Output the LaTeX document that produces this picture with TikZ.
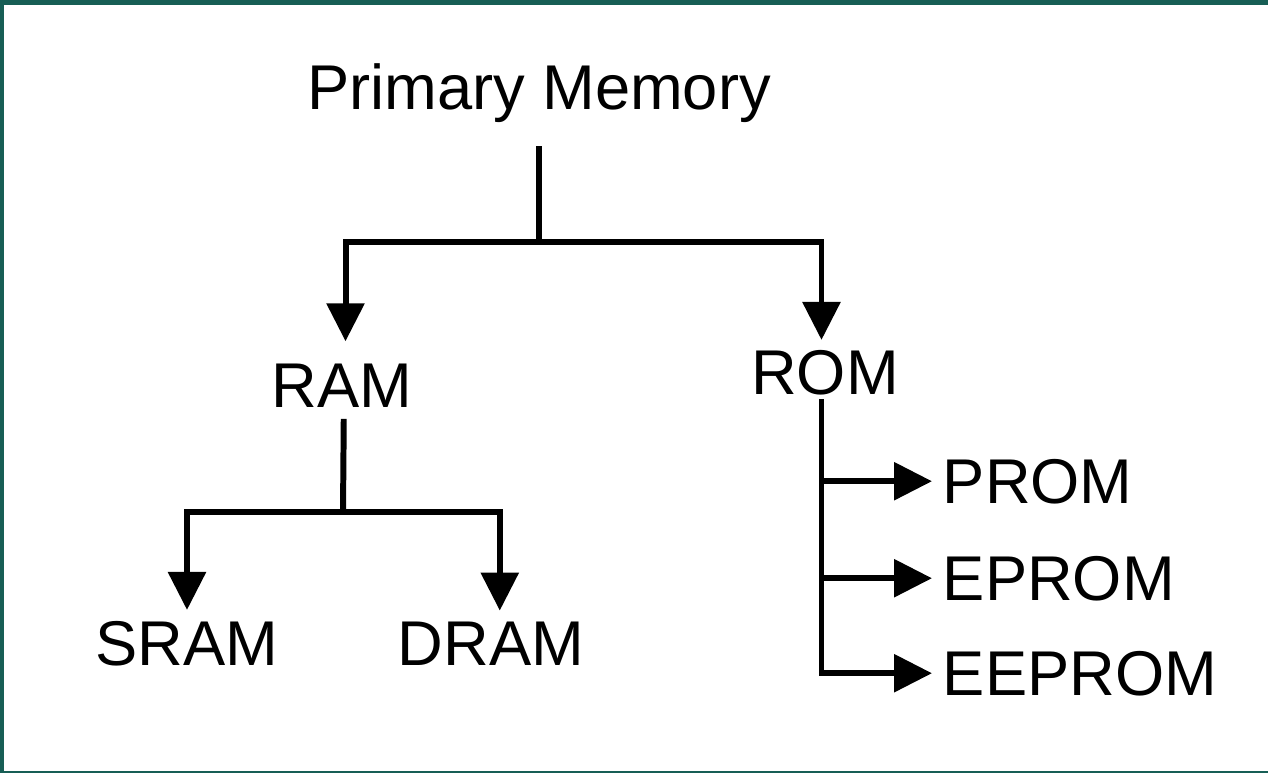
\documentclass[tikz,border=0pt]{standalone}
\usepackage{fontspec}
\setmainfont{Liberation Sans}
\usetikzlibrary{positioning, arrows.meta, calc}
\usepackage{xcolor}
\definecolor{memframe}{HTML}{175E55}
\definecolor{memink}{HTML}{000000}

\begin{document}
\begin{tikzpicture}[x=0.02cm, y=-0.02cm,
    font=\fontsize{36}{42}\selectfont,
    label/.style={text=memink, inner sep=6pt, anchor=base},
    sublabel/.style={text=memink, inner sep=6pt, anchor=base west},
    link/.style={draw=memink, line width=3.4pt},
    arrow/.style={link, -{Triangle[length=0.76cm, width=0.74cm]}}]
        \useasboundingbox (0,0) rectangle (1268,773);
        \fill[white] (0,0) rectangle (1268,773);
        \fill[memframe] (0,0) rectangle (1268,5);
        \fill[memframe] (0,0) rectangle (4,773);
        \fill[memframe] (0,771) rectangle (1268,773);
        % labels
        \node[label] (pm) at (539,110) {Primary Memory};
        \node[label] (ram) at (342,408) {RAM};
        \node[label] (rom) at (825,395) {ROM};
        \node[label] (sram) at (187,665) {SRAM};
        \node[label] (dram) at (491,665) {DRAM};
        \node[sublabel] (prom) at (932,503) {PROM};
        \node[sublabel] (eprom) at (932,600) {EPROM};
        \node[sublabel] (eeprom) at (932,695) {EEPROM};
        \coordinate (pmsplit) at (539,242);
        \coordinate (ramsplit) at (343,512);
        % connectors
        \draw[link, shorten <=7pt] (pm.south) -- (pmsplit);
        \draw[arrow, shorten >=7pt] (pmsplit) -| ([xshift=2pt]ram.north);
        \draw[arrow] (pmsplit) -| ([xshift=-2pt]rom.north);
        \draw[link] ([xshift=1pt]ram.south) -- (ramsplit);
        \draw[arrow] (ramsplit) -| (sram.north);
        \draw[arrow] (ramsplit) -| ([xshift=5pt]dram.north);
        \draw[arrow, shorten <=-4pt] ([xshift=-2pt]rom.south) |- (eeprom.west);
        \draw[arrow] ([xshift=-2pt]rom.south |- prom.west) -- (prom.west);
        \draw[arrow] ([xshift=-2pt]rom.south |- eprom.west) -- (eprom.west);
      \end{tikzpicture}
\end{document}
